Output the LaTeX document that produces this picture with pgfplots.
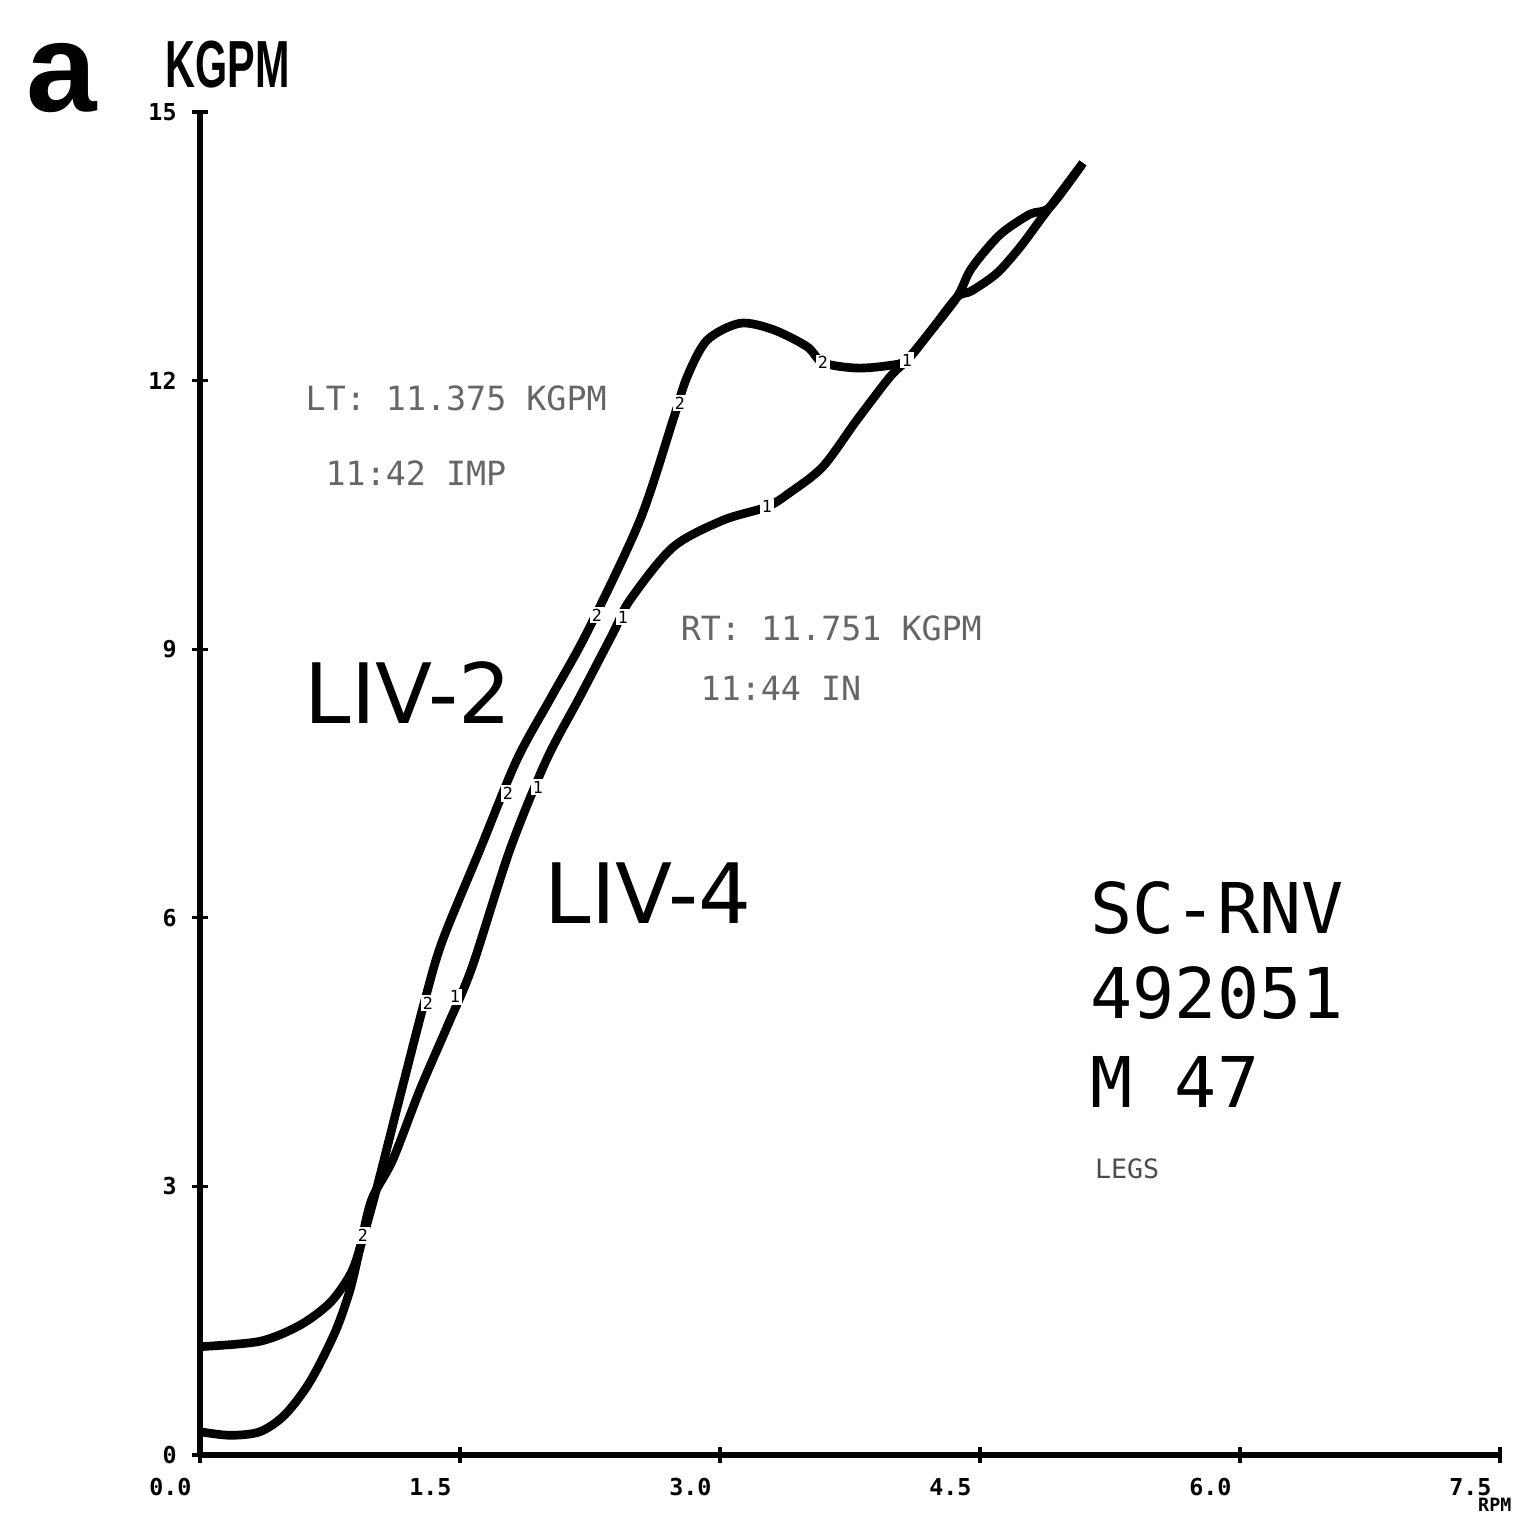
\documentclass[border=0pt]{standalone}
\usepackage{pgfplots}
\pgfplotsset{compat=1.18}
\usepackage{fontspec}
\setmainfont{DejaVu Sans}
\newfontfamily\monofont{DejaVu Sans Mono}
\newfontfamily\boldsans{Liberation Sans}
\begin{document}
\begin{tikzpicture}
\begin{axis}[
  at={(0,0)}, anchor=south west,
  scale only axis, width=390pt, height=402.9pt,
  xmin=0, xmax=7.5, ymin=0, ymax=15,
  axis x line=bottom, axis y line=left,
  axis line style={-, line width=2pt},
  xtick={0,1.5,3,4.5,6,7.5},
  xticklabels={0.0,1.5,3.0,4.5,6.0,7.5},
  ytick={0,3,6,9,12,15},
  yticklabels={0,3,6,9,12,15},
  tick align=center, major tick length=5pt,
  tick style={line width=1pt, black},
  /pgf/number format/assume math mode=true,
  tick label style={font=\monofont\bfseries\fontsize{7}{8}\selectfont},
  xticklabel style={anchor=north east, xshift=1pt, yshift=-1pt},
  yticklabel style={xshift=-1pt},
  clip=false,
]
% LIV-2
\addplot[black, line width=2.6pt, smooth, tension=0.5, line join=round] coordinates {
(0,1.21) (0.346,1.27) (0.577,1.45) (0.75,1.70) (0.865,2.01) (0.923,2.31)
(1.021,2.99) (1.16,4.05) (1.30,5.10) (1.40,5.75) (1.615,6.76) (1.827,7.76)
(2.025,8.46) (2.231,9.18) (2.538,10.44) (2.729,11.56) (2.81,12.04)
(2.925,12.45) (3.115,12.64) (3.306,12.57) (3.502,12.38) (3.594,12.20) (3.79,12.14)
(3.98,12.17) (4.079,12.23) (4.21,12.54) (4.367,12.93) (4.44,13.22) (4.53,13.45)
(4.633,13.66) (4.789,13.86) (4.904,13.94) (5.094,14.43)
};
% LIV-4
\addplot[black, line width=2.6pt, smooth, tension=0.5, line join=round] coordinates {
(0,0.26) (0.173,0.22) (0.346,0.26) (0.49,0.45) (0.635,0.82) (0.779,1.37)
(0.865,1.84) (0.923,2.31) (0.99,2.85) (1.113,3.30) (1.269,4.08) (1.425,4.78)
(1.57,5.45) (1.788,6.76) (1.998,7.76) (2.192,8.47) (2.383,9.18) (2.481,9.55) (2.729,10.14)
(3.017,10.44) (3.271,10.59) (3.404,10.75) (3.594,11.04) (3.79,11.56) (3.98,12.04)
(4.079,12.23) (4.21,12.54) (4.367,12.93) (4.45,13.0) (4.598,13.20) (4.731,13.49)
(4.846,13.79) (4.904,13.94) (5.094,14.43)
};
% curve markers
\tikzset{mk/.style={fill=white, inner sep=0.6pt, font=\monofont\fontsize{5}{5}\selectfont}}
\node[mk] at (1.315,5.05) {2};
\node[mk] at (1.777,7.39) {2};
\node[mk] at (2.29,9.38) {2};
\node[mk] at (2.769,11.75) {2};
\node[mk] at (3.594,12.20) {2};
\node[mk] at (1.471,5.12) {1};
\node[mk] at (1.95,7.46) {1};
\node[mk] at (2.44,9.36) {1};
\node[mk] at (3.271,10.59) {1};
\node[mk] at (4.079,12.23) {1};
\node[mk] at (0.94,2.45) {2};
% texts
\node[font=\boldsans\bfseries\fontsize{38}{38}\selectfont] at (-0.796,15.38) {a};
\node[font=\boldsans\bfseries\fontsize{20}{20}\selectfont] at (0.16,15.53) {\scalebox{0.62}[1]{KGPM}};
\node[font=\monofont\bfseries\fontsize{5.5}{6}\selectfont, anchor=north, inner sep=0pt] at (7.47,-0.47) {RPM};
\node[font=\fontsize{25}{25}\selectfont] at (1.2,8.51) {LIV-2};
\node[font=\fontsize{25}{25}\selectfont] at (2.585,6.28) {LIV-4};
\node[font=\monofont\fontsize{21}{21}\selectfont, anchor=base west, inner sep=0pt] at (5.135,5.82) {SC-RNV};
\node[font=\monofont\fontsize{21}{21}\selectfont, anchor=base west, inner sep=0pt] at (5.135,4.88) {492051};
\node[font=\monofont\fontsize{21}{21}\selectfont, anchor=base west, inner sep=0pt] at (5.135,3.876) {M 47};
\node[font=\monofont\fontsize{8}{8}\selectfont, anchor=base west, inner sep=0pt, text=black!70] at (5.16,3.09) {LEGS};
\node[font=\monofont\fontsize{10}{10}\selectfont, anchor=base west, inner sep=0pt, text=black!60] at (0.606,11.67) {LT: 11.375 KGPM};
\node[font=\monofont\fontsize{10}{10}\selectfont, anchor=base west, inner sep=0pt, text=black!60] at (0.721,10.83) {11:42 IMP};
\node[font=\monofont\fontsize{10}{10}\selectfont, anchor=base west, inner sep=0pt, text=black!60] at (2.77,9.10) {RT: 11.751 KGPM};
\node[font=\monofont\fontsize{10}{10}\selectfont, anchor=base west, inner sep=0pt, text=black!60] at (2.885,8.43) {11:44 IN};
\end{axis}
\pgfresetboundingbox
\path[use as bounding box] (-60pt,-19.8pt) rectangle (395.4pt,436.5pt);
\end{tikzpicture}
\end{document}
